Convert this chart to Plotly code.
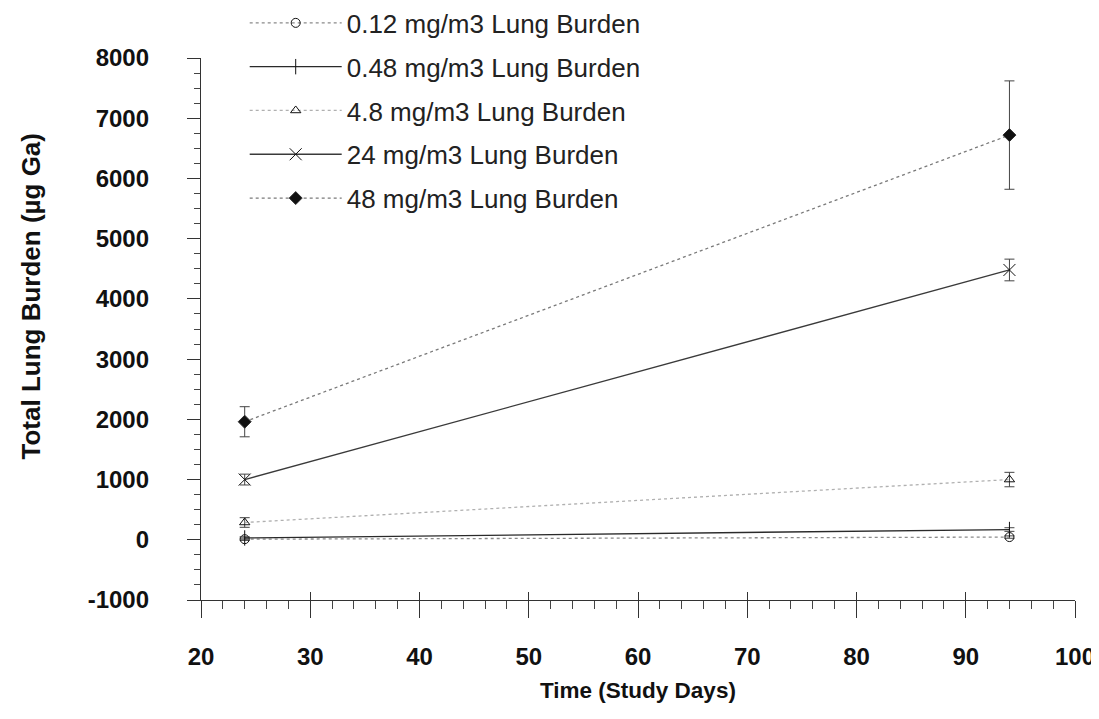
import plotly.graph_objects as go

days = [24, 94]
series_names = ["0.12 mg/m3 Lung Burden", "0.48 mg/m3 Lung Burden", "4.8 mg/m3 Lung Burden",
                "24 mg/m3 Lung Burden", "48 mg/m3 Lung Burden"]
burden_012 = [10, 45]
err_012 = [20, 20]
burden_048 = [30, 170]
err_048 = [20, 30]
burden_48 = [287, 1000]
err_48 = [80, 120]
burden_24 = [1000, 4480]
err_24 = [90, 180]
burden_480 = [1960, 6720]
err_480 = [250, 900]

x_ticks = [20, 30, 40, 50, 60, 70, 80, 90, 100]
x_tick_labels = ["20", "30", "40", "50", "60", "70", "80", "90", "100"]
y_ticks = [-1000, 0, 1000, 2000, 3000, 4000, 5000, 6000, 7000, 8000]
y_tick_labels = ["-1000", "0", "1000", "2000", "3000", "4000", "5000", "6000", "7000", "8000"]

values = [burden_012, burden_048, burden_48, burden_24, burden_480]
errors = [err_012, err_048, err_48, err_24, err_480]
line_colors = ["#8a8a8a", "#2a2a2a", "#b0b0b0", "#3a3a3a", "#7a7a7a"]
dashes = ["dot", "solid", "dot", "solid", "dot"]
symbols = ["circle-open", "line-ns-open", "triangle-up-open", "x-thin-open", "diamond"]
msizes = [9, 11, 9, 12, 10]

FONT = "Liberation Sans, Arial, sans-serif"

fig = go.Figure()
for name, v, e, c, d, s, ms in zip(series_names, values, errors, line_colors, dashes, symbols, msizes):
    fig.add_trace(go.Scatter(
        x=days, y=v, name=name, mode="lines+markers",
        line=dict(color=c, width=1.3, dash=d),
        marker=dict(symbol=s, size=ms, color="#111111", line=dict(color="#333333", width=1)),
        error_y=dict(type="data", array=e, visible=True, color="#444444", thickness=1, width=5),
        legendgroup=name,
    ))

# overlay axis for the upward part of the major x ticks
fig.add_trace(go.Scatter(x=[20], y=[-5000], xaxis="x2", showlegend=False, hoverinfo="skip",
                         mode="markers", marker=dict(opacity=0)))

tick_font = dict(size=24, weight="bold", color="#111111", family=FONT)

fig.update_layout(
    width=1099, height=719,
    paper_bgcolor="white", plot_bgcolor="white",
    margin=dict(l=193, r=32, t=50, b=127, autoexpand=False),
    font=dict(family=FONT, color="#111111"),
    showlegend=True,
    legend=dict(x=0.05, y=1.108, xanchor="left", yanchor="top", bgcolor="rgba(0,0,0,0)",
                font=dict(size=26, color="#222222"), tracegroupgap=7, itemwidth=92),
    xaxis=dict(range=[20, 100], tickvals=x_ticks, ticktext=x_tick_labels, showgrid=False, zeroline=False,
               showline=True, linecolor="#333333", linewidth=1.3,
               ticks="outside", ticklen=17, tickwidth=1.2, tickcolor="#333333",
               minor=dict(ticks="outside", ticklen=8, dtick=2, tick0=20, tickcolor="#444444", tickwidth=1),
               tickfont=tick_font, ticklabelstandoff=18),
    xaxis2=dict(range=[20, 100], tickvals=x_ticks, overlaying="x", side="bottom",
                showgrid=False, zeroline=False, showline=False, showticklabels=False,
                ticks="inside", ticklen=8, tickwidth=1.2, tickcolor="#333333"),
    yaxis=dict(range=[-1000, 8000], tickvals=y_ticks, ticktext=y_tick_labels, showgrid=False, zeroline=False,
               showline=True, linecolor="#333333", linewidth=1.3,
               ticks="outside", ticklen=13, tickwidth=1.2, tickcolor="#333333",
               minor=dict(ticks="outside", ticklen=6, dtick=250, tick0=0, tickcolor="#444444", tickwidth=1),
               tickfont=tick_font, ticklabelstandoff=33),
    annotations=[
        dict(text="Time (Study Days)", xref="paper", yref="paper", x=0.5, y=0,
             xanchor="center", yanchor="middle", yshift=-90, showarrow=False,
             font=dict(size=22.5, weight="bold", color="#111111", family=FONT)),
        dict(text="Total Lung Burden (µg Ga)", xref="paper", yref="paper", x=0, y=0.56,
             xanchor="center", yanchor="middle", xshift=-170, textangle=-90, showarrow=False,
             font=dict(size=26, weight="bold", color="#111111", family=FONT)),
    ],
)

fig.write_html("out.html")
